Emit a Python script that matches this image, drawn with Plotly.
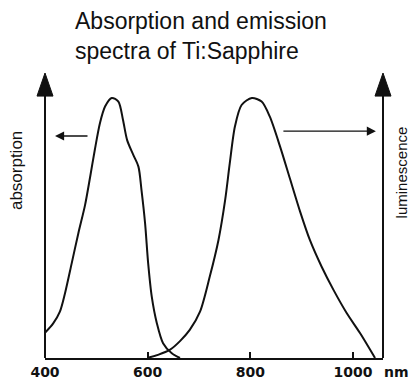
import plotly.graph_objects as go

# Absorption spectrum (normalized), wavelength in nm
abs_wl = [400, 416, 429, 439, 452, 465, 478, 488, 497, 507, 517, 530, 543, 552, 560, 572, 582, 588, 595, 601, 608, 618, 630, 647, 663]
abs_val = [0.097, 0.133, 0.178, 0.249, 0.364, 0.480, 0.588, 0.697, 0.800, 0.903, 0.967, 1.0, 0.986, 0.915, 0.838, 0.781, 0.736, 0.646, 0.518, 0.364, 0.236, 0.133, 0.057, 0.018, 0.0]

# Emission (luminescence) spectrum (normalized)
em_wl = [599, 620, 643, 663, 682, 702, 721, 738, 751, 760, 770, 783, 803, 822, 838, 858, 877, 897, 916, 939, 962, 988, 1014, 1043]
em_val = [0.0, 0.012, 0.031, 0.065, 0.108, 0.178, 0.313, 0.454, 0.608, 0.749, 0.890, 0.973, 1.0, 0.986, 0.928, 0.813, 0.691, 0.563, 0.454, 0.351, 0.262, 0.172, 0.095, 0.0]

tick_vals = [400, 600, 800, 1000]
tick_text = ["400", "600", "800", "1000"]

title_text = "Absorption and emission<br>spectra of Ti:Sapphire"
left_label = "absorption"
right_label = "luminescence"
unit_label = "nm"

FONT = "Liberation Sans, Arial, sans-serif"
TICKFONT = "DejaVu Sans, sans-serif"
INK = "#111111"

fig = go.Figure()
fig.add_trace(go.Scatter(x=abs_wl, y=abs_val, mode="lines",
                         line=dict(color=INK, width=2, shape="spline", smoothing=0.8),
                         hoverinfo="skip", showlegend=False))
fig.add_trace(go.Scatter(x=em_wl, y=em_val, mode="lines",
                         line=dict(color=INK, width=2, shape="spline", smoothing=0.8),
                         hoverinfo="skip", showlegend=False))

# Axis arrows (vertical) as shapes in paper coordinates
hw = 8 / 338.0
shapes = [
    dict(type="line", xref="paper", yref="paper", x0=0, x1=0, y0=0, y1=0.93,
         line=dict(color=INK, width=2)),
    dict(type="line", xref="paper", yref="paper", x0=1, x1=1, y0=0, y1=0.93,
         line=dict(color=INK, width=2)),
    dict(type="path", xref="paper", yref="paper",
         path=f"M {-hw},0.919 L 0,1 L {hw},0.919 Z",
         fillcolor=INK, line=dict(color=INK, width=1)),
    dict(type="path", xref="paper", yref="paper",
         path=f"M {1-hw},0.919 L 1,1 L {1+hw},0.919 Z",
         fillcolor=INK, line=dict(color=INK, width=1)),
]

annotations = [
    # title
    dict(text=title_text, xref="paper", yref="paper", x=0.083, y=1.13,
         xanchor="left", yanchor="middle", align="left", showarrow=False,
         font=dict(family=FONT, size=23, color=INK)),
    # axis labels
    dict(text=left_label, xref="paper", yref="paper", x=-0.084, y=0.658,
         xanchor="center", yanchor="middle", textangle=-90, showarrow=False,
         font=dict(family=FONT, size=17, color=INK)),
    dict(text=right_label, xref="paper", yref="paper", x=1.056, y=0.651,
         xanchor="center", yanchor="middle", textangle=-90, showarrow=False,
         font=dict(family=FONT, size=15, color=INK)),
    dict(text=unit_label, xref="paper", yref="paper", x=1.041, y=-0.05,
         xanchor="center", yanchor="middle", showarrow=False,
         font=dict(family=TICKFONT, size=14, color=INK, weight="bold")),
    # direction arrows
    dict(text="", xref="paper", yref="paper", x=0.0296, y=0.779,
         axref="pixel", ayref="pixel", ax=34, ay=0,
         showarrow=True, arrowhead=2, arrowsize=1.3, arrowwidth=1.4,
         arrowcolor=INK, standoff=0),
    dict(text="", xref="paper", yref="paper", x=0.979, y=0.796,
         axref="pixel", ayref="pixel", ax=-94, ay=0,
         showarrow=True, arrowhead=2, arrowsize=1.3, arrowwidth=1.4,
         arrowcolor=INK, standoff=0),
]

fig.update_layout(
    width=411, height=380,
    margin=dict(l=45, r=28, t=73, b=22, autoexpand=False),
    paper_bgcolor="white", plot_bgcolor="white",
    shapes=shapes, annotations=annotations,
    xaxis=dict(range=[400, 1058.5], showgrid=False, zeroline=False,
               automargin=False,
               showline=True, linecolor=INK, linewidth=2,
               ticks="inside", ticklen=6, tickwidth=2, tickcolor=INK,
               tickvals=tick_vals, ticktext=tick_text,
               tickfont=dict(family=TICKFONT, size=14, color=INK, weight="bold")),
    yaxis=dict(range=[0, 1.096], showgrid=False, zeroline=False,
               automargin=False,
               showline=False, showticklabels=False, ticks=""),
)

fig.write_html("out.html")
